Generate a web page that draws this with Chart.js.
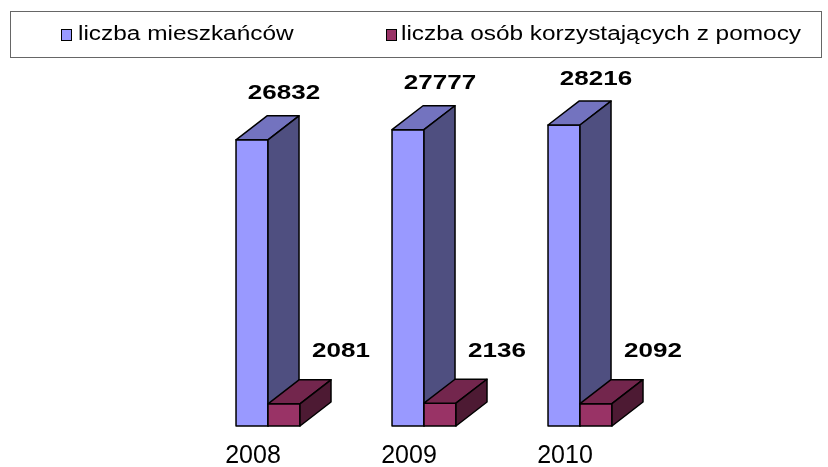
<!DOCTYPE html>
<html>
<head>
<meta charset="utf-8">
<script src="https://cdn.jsdelivr.net/npm/chart.js@4"></script>
<style>
  body { margin: 0; background: #fff; }
  canvas { display: block; }
</style>
</head>
<body>
<canvas id="myChart" width="828" height="467"></canvas>
<script>
var years      = ['2008', '2009', '2010'];
var residents  = [26832, 27777, 28216];
var helped     = [2081, 2136, 2092];
var seriesNames = ['liczba mieszkańców', 'liczba osób korzystających z pomocy'];

var FONT = '"Liberation Sans", Arial, sans-serif';

// face colours: front, top, side
var shades = [
    ['#9999ff', '#7373bf', '#4f4f80'],
    ['#993366', '#73264d', '#4d1a33']
];

function stretchText(ctx, text, x, y, sx) {
    ctx.save();
    ctx.translate(x, y);
    ctx.scale(sx, 1);
    ctx.fillText(text, 0, 0);
    ctx.restore();
}

function poly(ctx, pts, fill) {
    ctx.beginPath();
    ctx.moveTo(pts[0][0], pts[0][1]);
    for (var i = 1; i < pts.length; i++) ctx.lineTo(pts[i][0], pts[i][1]);
    ctx.closePath();
    ctx.fillStyle = fill;
    ctx.fill();
    ctx.stroke();
}

// draws the box faces around each bar element
var bars3d = {
    id: 'bars3d',
    afterDatasetsDraw: function(chart) {
        var ctx = chart.ctx;
        ctx.save();
        ctx.strokeStyle = '#000';
        ctx.lineWidth = 1.5;
        ctx.lineJoin = 'round';
        for (var i = 0; i < years.length; i++) {
            for (var d = 0; d < chart.data.datasets.length; d++) {
                var el = chart.getDatasetMeta(d).data[i];
                var l = el.x - el.width / 2, r = el.x + el.width / 2;
                var t = el.y, b = el.base;
                var dx = el.width * 0.97, dy = el.width * 0.75;
                var c = shades[d];
                poly(ctx, [[l, t], [r, t], [r, b], [l, b]], c[0]);
                poly(ctx, [[l, t], [r, t], [r + dx, t - dy], [l + dx, t - dy]], c[1]);
                poly(ctx, [[r, t], [r + dx, t - dy], [r + dx, b - dy], [r, b]], c[2]);
            }
        }
        ctx.restore();
    },
    afterDraw: function(chart) {
        var ctx = chart.ctx;
        ctx.save();
        // value labels
        ctx.fillStyle = '#000';
        ctx.font = 'bold 20px ' + FONT;
        ctx.textAlign = 'center';
        ctx.textBaseline = 'middle';
        var xs = chart.scales.x;
        for (var i = 0; i < years.length; i++) {
            var cx = xs.getPixelForValue(i);
            var e0 = chart.getDatasetMeta(0).data[i];
            var e1 = chart.getDatasetMeta(1).data[i];
            stretchText(ctx, String(residents[i]), cx + 16, e0.y - e0.width * 0.75 - 22, 1.3);
            stretchText(ctx, String(helped[i]), cx + 73, e1.y - e1.width * 0.75 - 28, 1.3);
        }
        // legend
        ctx.strokeStyle = '#666';
        ctx.lineWidth = 1;
        ctx.strokeRect(10.5, 11.5, 811, 46);
        ctx.font = '20px ' + FONT;
        ctx.textAlign = 'left';
        ctx.textBaseline = 'alphabetic';
        var items = [[61, 78], [386, 401]];
        for (var k = 0; k < 2; k++) {
            ctx.fillStyle = shades[k][0];
            ctx.fillRect(items[k][0] + 0.5, 29.5, 10, 11);
            ctx.strokeStyle = '#000';
            ctx.strokeRect(items[k][0] + 0.5, 29.5, 10, 11);
            ctx.fillStyle = '#000';
            stretchText(ctx, seriesNames[k], items[k][1], 40, 1.22);
        }
        ctx.restore();
    }
};

var ctx = document.getElementById('myChart');

var myChart = new Chart(ctx, {
    type: 'bar',
    data: {
        labels: years,
        datasets: [{
            label: seriesNames[0],
            data: residents,
            backgroundColor: shades[0][0],
            borderColor: '#000',
            borderWidth: 1.5
        }, {
            label: seriesNames[1],
            data: helped,
            backgroundColor: shades[1][0],
            borderColor: '#000',
            borderWidth: 1.5
        }]
    },
    options: {
        responsive: false,
        animation: false,
        layout: { padding: { top: 106, left: 190, right: 170, bottom: -19 } },
        plugins: {
            legend: { display: false },
            tooltip: { enabled: false }
        },
        datasets: {
            bar: { barPercentage: 1, categoryPercentage: 0.41 }
        },
        scales: {
            y: { display: false, min: 0, max: 30000 },
            x: {
                grid: { display: false, drawTicks: false },
                border: { display: false },
                ticks: {
                    color: '#000',
                    font: { family: FONT, size: 25 },
                    padding: 15,
                    labelOffset: -15
                }
            }
        }
    },
    plugins: [bars3d]
});
</script>
</body>
</html>
